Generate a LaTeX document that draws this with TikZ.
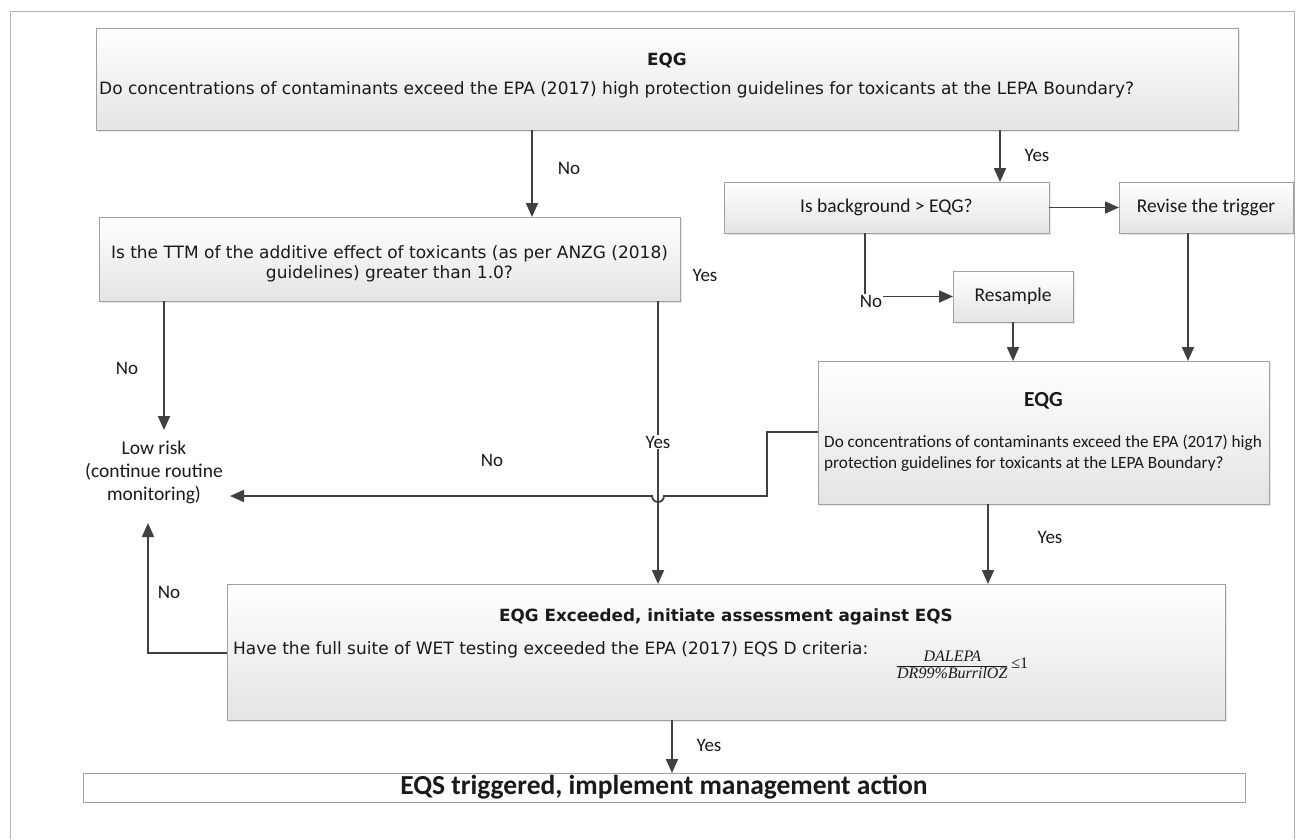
\documentclass[tikz,border=0pt]{standalone}
\usepackage{fontspec}
\setmainfont{Carlito}
\newfontfamily\verd{DejaVu Sans}
\newfontfamily\tnr{Liberation Serif}
\usetikzlibrary{arrows.meta,shadows}

\definecolor{boxline}{HTML}{A0A0A0}
\definecolor{boxgrad}{HTML}{E4E4E4}
\definecolor{conline}{HTML}{404040}
\definecolor{txt}{HTML}{1A1A1A}

\tikzset{
  flowbox/.style={draw=boxline, line width=0.9pt, top color=white, bottom color=boxgrad,
    drop shadow={shadow xshift=2pt, shadow yshift=-2pt, opacity=0.18},
    inner sep=0pt, outer sep=0pt},
  plainbox/.style={draw=boxline, line width=0.9pt, fill=white, inner sep=0pt, outer sep=0pt},
  arr/.style={draw=conline, line width=1.8pt, -{Triangle[length=14pt,width=12pt]}},
  lab/.style={font=\fontsize{19}{21}\selectfont, text=txt, inner sep=1pt},
  labw/.style={lab, fill=white},
  vtext/.style={font=\verd\fontsize{17}{20.5}\selectfont, text=txt, inner sep=0pt},
  vbold/.style={font=\verd\bfseries\fontsize{16.8}{20}\selectfont, text=txt, inner sep=0pt},
  ctext/.style={font=\fontsize{19.5}{23}\selectfont, text=txt, inner sep=0pt, align=center},
}

\begin{document}
\begin{tikzpicture}[x=1pt,y=-1pt]
\useasboundingbox (0,0) rectangle (1309,839);
\fill[white] (0,0) rectangle (1309,839);
% page frame
\draw[gray!60, line width=0.8pt] (10,839) -- (10,11) -- (1294,11) -- (1294,839);

% ---- boxes ----
\node[flowbox, minimum width=1142pt, minimum height=102pt] (top) at (667,79) {};
\node[vbold] (topT) at (667,60) {EQG};
\node[vtext, anchor=west] (topQ) at (99,90) {Do concentrations of contaminants exceed the EPA (2017) high protection guidelines for toxicants at the LEPA Boundary?};

\node[flowbox, minimum width=581pt, minimum height=84pt] (ttm) at (389.5,259) {};
\node[vtext, align=center] (ttmT) at (389.5,264)
  {Is the TTM of the additive effect of toxicants (as per ANZG (2018)\\guidelines) greater than 1.0?};

\node[flowbox, minimum width=325pt, minimum height=51pt, ctext] (bg) at (886.5,207.5) {Is background > EQG?};
\node[flowbox, minimum width=174pt, minimum height=51pt, ctext] (rev) at (1206,207.5) {Revise the trigger};
\node[flowbox, minimum width=120pt, minimum height=51pt, ctext] (res) at (1013,296.5) {Resample};

\node[flowbox, minimum width=451pt, minimum height=143pt] (eqg) at (1043.5,432.5) {};
\node[font=\bfseries\fontsize{21.5}{24}\selectfont, text=txt, inner sep=0pt] (eqgT) at (1043.5,401) {EQG};
\node[font=\fontsize{17.2}{21}\selectfont, text=txt, inner sep=0pt, anchor=west, align=left] (eqgQ) at (824,453)
  {Do concentrations of contaminants exceed the EPA (2017) high\\protection guidelines for toxicants at the LEPA Boundary?};

\node[ctext] (low) at (154,472) {Low risk\\(continue routine\\monitoring)};

\node[flowbox, minimum width=998pt, minimum height=136pt] (exc) at (726,652) {};
\node[vbold] (excT) at (726,617) {EQG Exceeded, initiate assessment against EQS};
\node[vtext, anchor=west] (excQ) at (233,650) {Have the full suite of WET testing exceeded the EPA (2017) EQS D criteria:};
\node[inner sep=0pt, text=txt] (frac) at (962,665)
  {$\displaystyle\frac{\mbox{\tnr\itshape\fontsize{16}{18}\selectfont DALEPA}}{\mbox{\tnr\itshape\fontsize{16}{18}\selectfont DR99\%BurrilOZ}}\mbox{\tnr\fontsize{16}{18}\selectfont\,≤1}$};

\node[plainbox, minimum width=1162pt, minimum height=29pt] (eqs) at (664,787.5) {};
\node[font=\bfseries\fontsize{27.5}{30}\selectfont, text=txt, inner sep=0pt] (eqsT) at (664,787) {EQS triggered, implement management action};

% ---- routing coordinates ----
\coordinate (xA) at (532,0);
\coordinate (xB) at (1000,0);
\coordinate (xC) at (865,0);
\coordinate (xD) at (1188,0);
\coordinate (xE) at (164,0);
\coordinate (xF) at (658,0);
\coordinate (xG) at (988,0);
\coordinate (xH) at (672,0);
\coordinate (yR) at (0,432);
\coordinate (yL) at (0,496);
\coordinate (yX) at (0,653);
\coordinate (bend) at (767,0);
\coordinate (lowIn) at (230,496);
\coordinate (lowUp) at (148,523);
\coordinate (lowDn) at (164,430);

% ---- connectors ----
\draw[arr] (top.south -| xA) -- (ttm.north -| xA);
\node[lab] (l1) at (569,168) {No};

\draw[arr] (top.south -| xB) -- (bg.north -| xB);
\node[lab] (l2) at (1037,155) {Yes};

\draw[arr] (bg.east) -- (rev.west);

\draw[arr] (bg.south -| xC) |- (res.west);
\node[labw] (l3) at (871,301) {No};

\draw[arr] (res.south) -- (eqg.north -| res.south);
\draw[arr] (rev.south -| xD) -- (eqg.north -| xD);

\draw[arr] (ttm.south -| xE) -- (lowDn);
\node[lab] (l4) at (127,368) {No};

\draw[arr] (ttm.south -| xF) -- (exc.north -| xF);
\node[labw] (l5) at (658,442) {Yes};
\node[lab] (l6) at (705,275) {Yes};

\draw[arr] (eqg.west |- yR) -- (bend |- yR) -- (bend |- yL) -- ([xshift=6pt]xF |- yL)
  arc[start angle=0, end angle=-180, radius=6pt] -- (lowIn);
\node[lab] (l7) at (492,460) {No};

\draw[arr] (eqg.south -| xG) -- (exc.north -| xG);
\node[lab] (l8) at (1050,537) {Yes};

\draw[arr] (exc.west |- yX) -| (lowUp);
\node[lab] (l9) at (169,592) {No};

\draw[arr] (exc.south -| xH) -- (eqs.north -| xH);
\node[lab] (l10) at (709,745) {Yes};
\end{tikzpicture}
\end{document}
